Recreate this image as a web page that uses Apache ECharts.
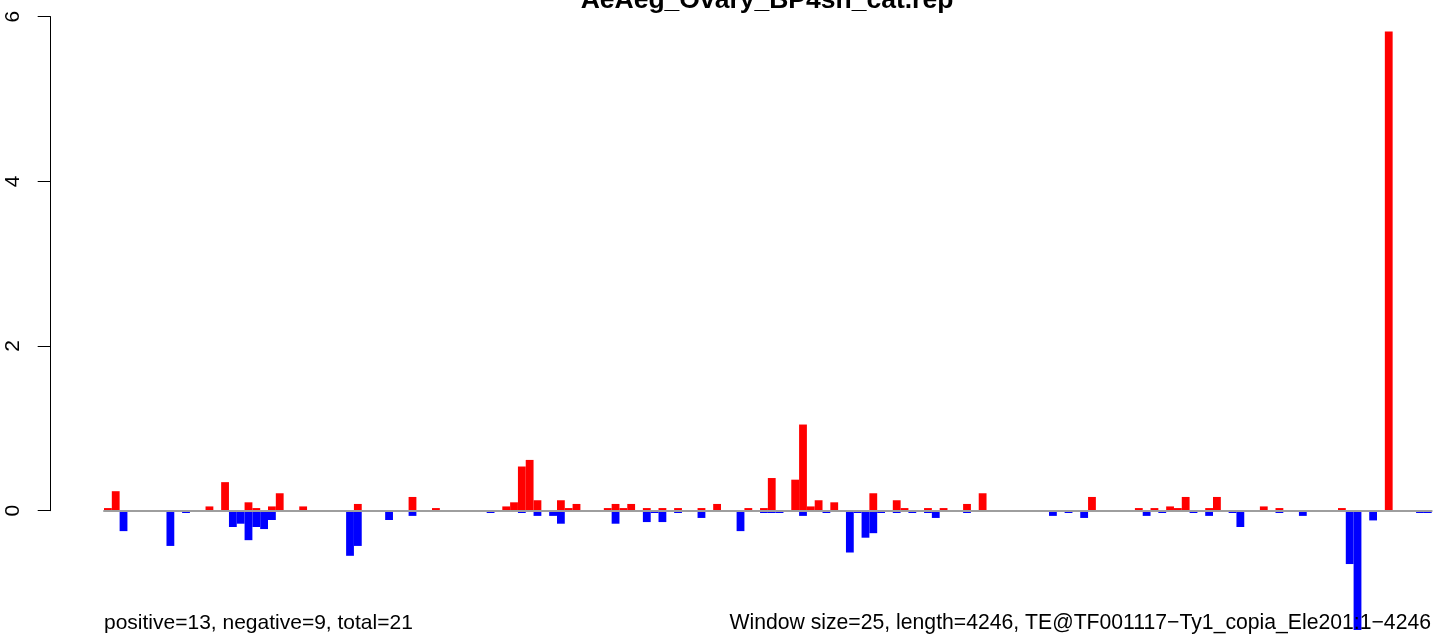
<!DOCTYPE html>
<html>
<head>
<meta charset="utf-8">
<style>
  html, body { margin: 0; padding: 0; background: #fff; }
  #container { width: 1433px; height: 634px; }
</style>
<script src="https://cdn.jsdelivr.net/npm/echarts@6/dist/echarts.min.js"></script>
</head>
<body>
<div id="container"></div>
<script>
var titleText = 'AeAeg_Ovary_BP4sn_cat.rep';
var leftNote = 'positive=13, negative=9, total=21';
var rightNote = 'Window size=25, length=4246, TE@TF001117\u2212Ty1_copia_Ele201:1\u22124246';

// one value per 25bp window (170 windows), sense strand
var positive = [
    0.03, 0.235, 0, 0, 0, 0, 0, 0, 0, 0,
    0, 0, 0, 0.05, 0, 0.345, 0, 0, 0.10, 0.03,
    0, 0.05, 0.21, 0, 0, 0.05, 0, 0, 0, 0,
    0, 0, 0.08, 0, 0, 0, 0, 0, 0, 0.165,
    0, 0, 0.03, 0, 0, 0, 0, 0, 0, 0,
    0, 0.05, 0.10, 0.535, 0.615, 0.125, 0, 0, 0.125, 0.03,
    0.08, 0, 0, 0, 0.03, 0.08, 0.03, 0.08, 0, 0.03,
    0, 0.03, 0, 0.03, 0, 0, 0.03, 0, 0.08, 0,
    0, 0, 0.03, 0, 0.03, 0.395, 0, 0, 0.375, 1.045,
    0.05, 0.125, 0, 0.10, 0, 0, 0, 0, 0.21, 0,
    0, 0.125, 0.03, 0, 0, 0.03, 0, 0.03, 0, 0,
    0.08, 0, 0.21, 0, 0, 0, 0, 0, 0, 0,
    0, 0, 0, 0, 0, 0, 0.165, 0, 0, 0,
    0, 0, 0.03, 0, 0.03, 0, 0.05, 0.03, 0.165, 0,
    0, 0.03, 0.165, 0, 0, 0, 0, 0, 0.05, 0,
    0.03, 0, 0, 0, 0, 0, 0, 0, 0.03, 0,
    0, 0, 0, 0, 5.82, 0, 0, 0, 0, 0
];

// antisense strand
var negative = [
    0, 0, -0.25, 0, 0, 0, 0, 0, -0.43, 0,
    -0.03, 0, 0, 0, 0, 0, -0.20, -0.16, -0.36, -0.20,
    -0.225, -0.115, 0, 0, 0, 0, 0, 0, 0, 0,
    0, -0.55, -0.43, 0, 0, 0, -0.115, 0, 0, -0.065,
    0, 0, 0, 0, 0, 0, 0, 0, 0, -0.03,
    0, 0, 0, -0.03, 0, -0.065, 0, -0.065, -0.16, 0,
    0, 0, 0, 0, 0, -0.16, 0, 0, 0, -0.14,
    -0.03, -0.14, 0, -0.03, 0, 0, -0.09, 0, 0, 0,
    0, -0.25, 0, 0, -0.03, -0.03, -0.03, 0, 0, -0.065,
    0, 0, -0.03, 0, 0, -0.51, -0.03, -0.33, -0.275, -0.03,
    0, -0.03, 0, -0.03, 0, -0.03, -0.09, 0, 0, 0,
    -0.03, 0, 0, 0, 0, 0, 0, 0, 0, 0,
    0, -0.065, 0, -0.03, 0, -0.09, 0, 0, 0, 0,
    0, 0, 0, -0.065, 0, -0.03, 0, 0, 0, -0.03,
    0, -0.065, 0, 0, -0.03, -0.20, 0, 0, 0, 0,
    -0.03, 0, 0, -0.065, 0, 0, 0, 0, 0, -0.65,
    -1.45, 0, -0.12, 0, 0, 0, 0, 0, -0.03, -0.03
];

var yTicks = [0, 2, 4, 6];

var windows = [];
for (var i = 0; i < positive.length; i++) {
    windows.push(String(i + 1));
}

var chart = echarts.init(document.getElementById('container'), null, { renderer: 'canvas' });
var font = '"Liberation Sans", Arial, Helvetica, sans-serif';

var option = {
    animation: false,
    backgroundColor: '#ffffff',
    grid: [
        // only carries the y axis (0..6) like R draws it
        { left: 50.7, top: 16.7, width: 20, height: 494, containLabel: false },
        // the bars, down to the bottom edge of the page
        { left: 104, top: 16.7, width: 1327.7, bottom: 0, containLabel: false }
    ],
    xAxis: [
        { gridIndex: 0, type: 'value', show: false },
        {
            gridIndex: 1,
            type: 'category',
            data: windows,
            z: 10,
            axisLine: { onZero: true, lineStyle: { color: '#9e9e9e', width: 2 } },
            axisTick: { show: false },
            axisLabel: { show: false },
            splitLine: { show: false }
        }
    ],
    yAxis: [
        {
            gridIndex: 0,
            type: 'value',
            min: yTicks[0],
            max: yTicks[yTicks.length - 1],
            interval: 2,
            axisLine: { show: true, lineStyle: { color: '#000', width: 1 } },
            axisTick: { show: true, length: 13, lineStyle: { color: '#000', width: 1 } },
            axisLabel: {
                rotate: 90,
                margin: 27,
                color: '#000',
                fontSize: 21,
                fontFamily: font
            },
            splitLine: { show: false }
        },
        {
            gridIndex: 1,
            type: 'value',
            min: -1.5,
            max: 6,
            show: false,
            splitLine: { show: false }
        }
    ],
    series: [
        {
            type: 'bar',
            name: 'positive',
            xAxisIndex: 1,
            yAxisIndex: 1,
            data: positive,
            barGap: '-100%',
            barCategoryGap: 0,
            itemStyle: { color: '#ff0000' }
        },
        {
            type: 'bar',
            name: 'negative',
            xAxisIndex: 1,
            yAxisIndex: 1,
            data: negative,
            barGap: '-100%',
            barCategoryGap: 0,
            itemStyle: { color: '#0000ff' }
        }
    ],
    graphic: [
        {
            type: 'text', z: 100,
            style: { x: 767, y: 14, text: titleText, textAlign: 'center', textVerticalAlign: 'bottom',
                font: 'bold 26.5px ' + font, fill: '#000' }
        },
        {
            type: 'text', z: 100,
            style: { x: 104, y: 634, text: leftNote, textAlign: 'left', textVerticalAlign: 'bottom',
                font: '21px ' + font, fill: '#000' }
        },
        {
            type: 'text', z: 100,
            style: { x: 1431, y: 634, text: rightNote, textAlign: 'right', textVerticalAlign: 'bottom',
                font: '21.2px ' + font, fill: '#000' }
        }
    ]
};

chart.setOption(option);
</script>
</body>
</html>
